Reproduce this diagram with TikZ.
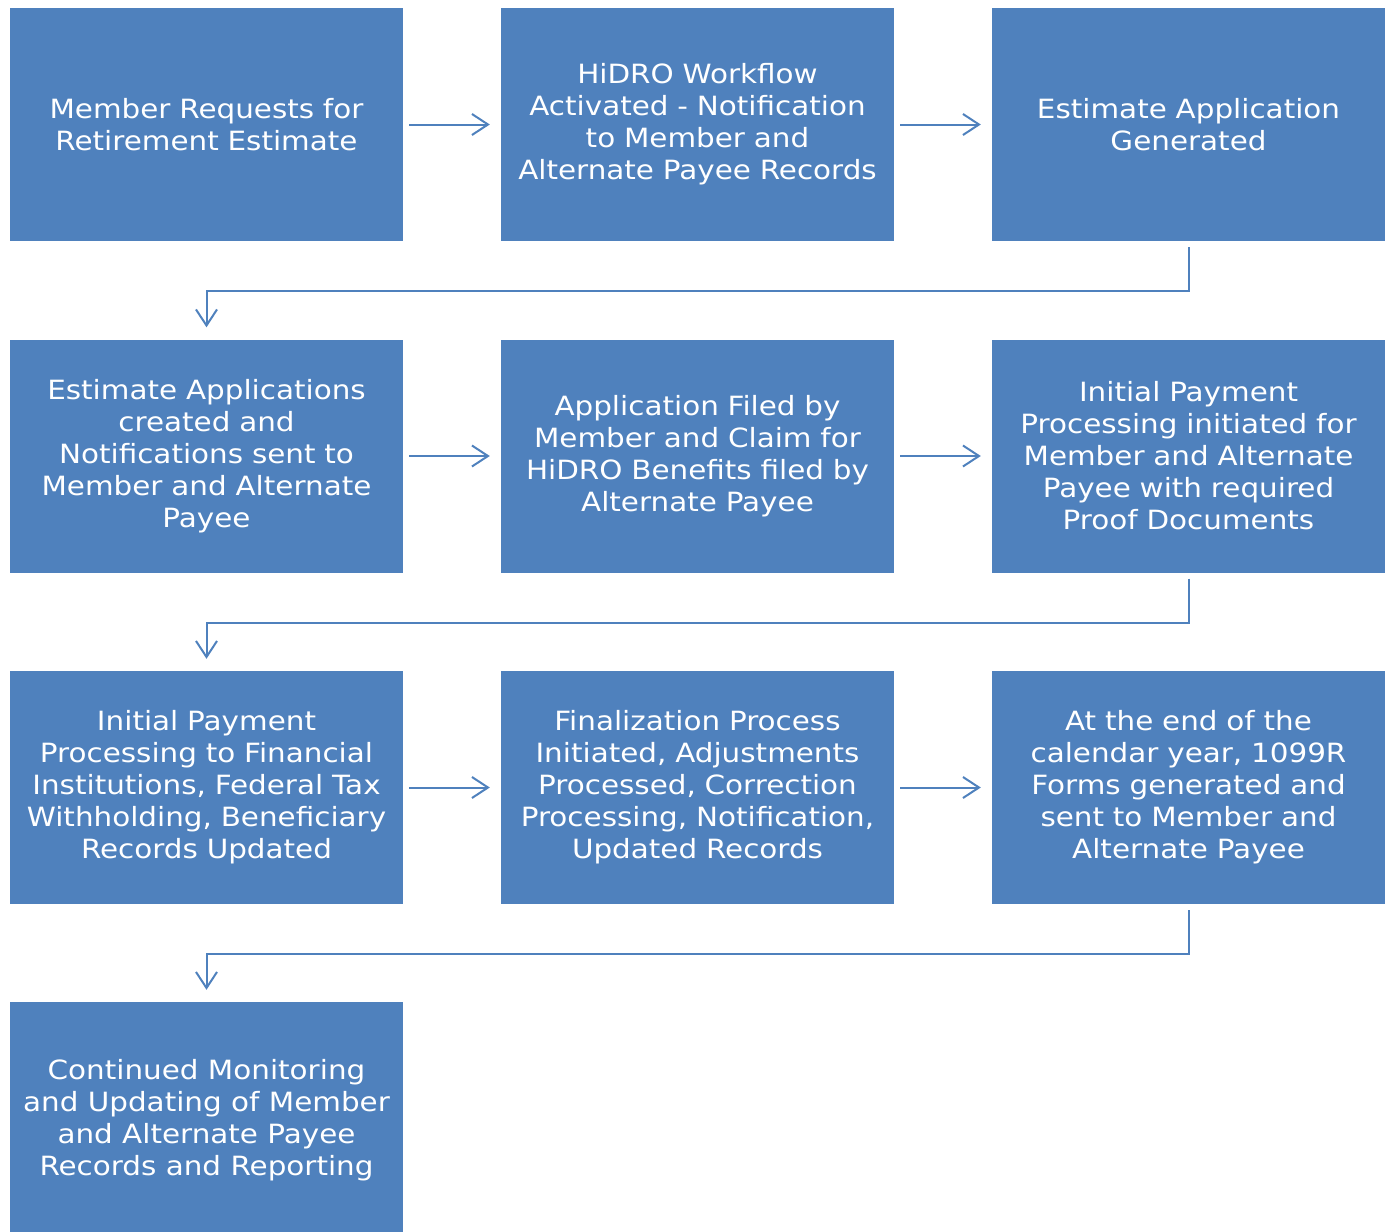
\documentclass[tikz,border=0pt]{standalone}
\usepackage{fontspec}
\setmainfont[FakeStretch=1.11]{DejaVu Sans}
\usetikzlibrary{arrows.meta,positioning}
\definecolor{boxblue}{HTML}{4F81BD}
\begin{document}
\begin{tikzpicture}[x=1pt,y=-1pt,
  stepbox/.style={fill=boxblue,draw=none,minimum width=393pt,minimum height=233pt,
    text width=391pt,align=center,text=white,inner sep=0pt,
    font=\fontsize{26.5}{32}\selectfont},
  conn/.style={draw=boxblue,line width=2pt,
    -{Straight Barb[length=16pt,width=21pt,line width=2pt]}},
]
\useasboundingbox (0,0) rectangle (1394,1231);
\begin{scope}
\clip (0,0) rectangle (1394,1231);
\node[stepbox] (a1) at (206.5,124.5) {Member Requests for\\Retirement Estimate};
\node[stepbox] (a2) at (697.5,124.5) {HiDRO Workflow\\Activated - Notification\\to Member and\\Alternate Payee Records};
\node[stepbox] (a3) at (1188.5,124.5) {Estimate Application\\Generated};
\node[stepbox] (b1) at (206.5,456) {Estimate Applications\\created and\\Notifications sent to\\Member and Alternate\\Payee};
\node[stepbox] (b2) at (697.5,456) {Application Filed by\\Member and Claim for\\HiDRO Benefits filed by\\Alternate Payee};
\node[stepbox] (b3) at (1188.5,456) {Initial Payment\\Processing initiated for\\Member and Alternate\\Payee with required\\Proof Documents};
\node[stepbox] (c1) at (206.5,787.5) {Initial Payment\\Processing to Financial\\Institutions, Federal Tax\\Withholding, Beneficiary\\Records Updated};
\node[stepbox] (c2) at (697.5,787.5) {Finalization Process\\Initiated, Adjustments\\Processed, Correction\\Processing, Notification,\\Updated Records};
\node[stepbox] (c3) at (1188.5,787.5) {At the end of the\\calendar year, 1099R\\Forms generated and\\sent to Member and\\Alternate Payee};
\node[stepbox] (d1) at (206.5,1118.5) {};
\node[align=center,text=white,inner sep=0pt,font=\fontsize{26.5}{32}\selectfont] (d1t) at (206.5,1120) {Continued Monitoring\\and Updating of Member\\and Alternate Payee\\Records and Reporting};
\end{scope}
\foreach \p/\q in {a1/a2,a2/a3,b1/b2,b2/b3,c1/c2,c2/c3}
  \draw[conn,shorten <=6pt,shorten >=11pt] (\p.east) -- (\q.west);
\foreach \p/\q in {a3/b1,b3/c1,c3/d1}
  \draw[conn,shorten <=6pt,shorten >=12pt] (\p.south) -- ++(0,50) -| (\q.north);
\end{tikzpicture}
\end{document}
